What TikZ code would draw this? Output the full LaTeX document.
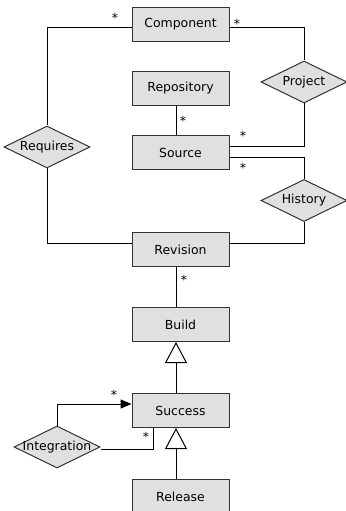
\documentclass[tikz,border=0pt]{standalone}
\usepackage{fontspec}
\setmainfont{DejaVu Sans}
\usetikzlibrary{shapes.geometric, arrows.meta}

\tikzset{
	entity/.style = {draw = black!80, fill = black!12, line width = 1bp, minimum width = 97bp, minimum height = 34bp, inner sep = 0pt},
	relation/.style = {diamond, draw = black!80, fill = black!12, line width = 1bp, minimum width = 86bp, minimum height = 42bp, inner sep = 0pt},
	many/.style = {font = \fontsize{12.5}{15}\selectfont, inner sep = 0pt},
	generalization/.style = {-{Triangle[open, length = 21bp, width = 22bp]}},
}

\begin{document}
\begin{tikzpicture}[x = 1bp, y = -1bp, line width = 1bp, font = \fontsize{12.5}{15}\selectfont]
		\useasboundingbox (0,0) rectangle (345,511);

		\def\mid{180.5};

		\coordinate (spine) at (176,0);
		\coordinate (upper link) at (0,28);
		\coordinate (lower link) at (0,243);

		\node [entity] (component) at (\mid,24.5) {Component};
		\node [entity] (repository) at (\mid,88.5) {Repository};
		\node [entity] (source) at (\mid,153) {Source};
		\node [entity] (revision) at (\mid,249.5) {Revision};
		\node [entity] (build) at (\mid,324.5) {Build};
		\node [entity] (success) at (\mid,410.5) {Success};
		\node [entity] (release) at (\mid,496.5) {Release};

		\node [relation, label = center:Requires] (requires) at (47,147) {};
		\node [relation, label = center:Project] (project) at (304,82) {};
		\node [relation, label = center:History] (history) at (304,200.5) {};
		\node [relation, label = center:Integration] (integration) at (57,447) {};

		\draw (component.west |- upper link) -| (requires.north);
		\draw (requires.south) |- (revision.west |- lower link);
		\draw (component.east |- upper link) -| (project.north);
		\draw (project.south) |- (source.east |- 0,147);
		\draw (source.east |- 0,158) -| (history.north);
		\draw (history.south) |- (revision.east |- lower link);

		\draw (repository.south -| spine) -- (source.north -| spine);
		\draw (revision.south -| spine) -- (build.north -| spine);
		\draw [generalization] (success.north -| spine) -- (build.south -| spine);
		\draw [generalization] (release.north -| spine) -- (success.south -| spine);

		\draw [-{Triangle[length = 11bp, width = 9bp]}] (integration.north) |- (success.west |- 0,404);
		\draw (integration.east |- 0,449) -| (success.south -| 153,0);

		\node [many] (star comp left) at (115,18) {*};
		\node [many] (star comp right) at (237,23.5) {*};
		\node [many] (star repo) at (183,121) {*};
		\node [many] (star project) at (243,136) {*};
		\node [many] (star history) at (243,168) {*};
		\node [many] (star build) at (184,280) {*};
		\node [many] (star integ top) at (114,395) {*};
		\node [many] (star integ bottom) at (146,437) {*};
	\end{tikzpicture}
\end{document}
